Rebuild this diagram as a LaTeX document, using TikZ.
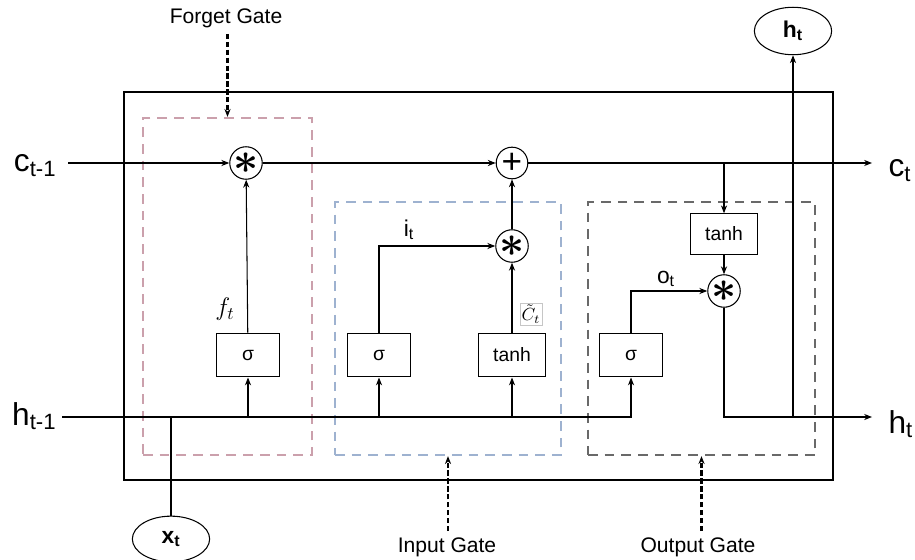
\documentclass[tikz,border=0pt]{standalone}
\usepackage{fontspec}
\setmainfont{Liberation Sans}
\usetikzlibrary{positioning,shapes.geometric,fit,arrows.meta}
\definecolor{forgetc}{RGB}{203,160,172}
\definecolor{inputc}{RGB}{158,178,208}
\definecolor{outputc}{RGB}{105,105,105}

\begin{document}
\begin{tikzpicture}[x=0.02cm, y=-0.02cm, >={Stealth[length=4.5pt,width=3.5pt]}, line width=0.6pt,
		op/.style={draw, circle, minimum size=18pt, inner sep=0pt, font=\fontsize{20}{20}\selectfont},
		mulop/.style={op, font=\fontsize{24}{24}\selectfont\boldmath},
		act/.style={draw, rectangle, minimum width=36pt, minimum height=25pt, inner sep=0pt, font=\fontsize{11}{12}\selectfont},
		io/.style={draw, ellipse, minimum width=44pt, minimum height=26pt, inner sep=0pt, font=\fontsize{13}{14}\selectfont\bfseries},
		gatebox/.style={line width=1.3pt, dash pattern=on 5.5pt off 4pt, inner sep=0pt},
		gatearrow/.style={->, line width=1.3pt, dash pattern=on 3pt off 1.5pt},
		biglab/.style={font=\fontsize{18}{20}\selectfont, inner sep=0pt},
		gatelab/.style={font=\fontsize{12}{14}\selectfont},
		siglab/.style={font=\fontsize{13}{14}\selectfont}]
	\useasboundingbox (0,0) rectangle (915,560);

	% 1. cell frame and the three gate regions
	\node[draw, line width=0.8pt, inner sep=0pt, fit={(124,92) (833,480)}] (cell) {};
	\node[gatebox, draw=forgetc, fit={(143,118) (312,455)}] (fgbox) {};
	\node[gatebox, draw=inputc, fit={(335,202) (561,455)}] (igbox) {};
	\node[gatebox, draw=outputc, fit={(588,202) (815,455)}] (ogbox) {};

	% 2. pointwise operators
	\node[mulop] (fmul) at (246,163) {$\ast$};
	\node[op] (add) at (512,163) {+};
	\node[mulop] (imul) at (512,246) {$\ast$};
	\node[mulop] (omul) at (724,291) {$\ast$};

	% 3. activation boxes
	\node[act] (fsig) at (248,355) {σ};
	\node[act] (isig) at (379,355) {σ};
	\node[act, minimum width=38.5pt] (itanh) at (512,355) {tanh};
	\node[act] (osig) at (631,355) {σ};
	\node[act, minimum width=38.5pt, minimum height=23pt] (ctanh) at (724,234) {tanh};

	% 4. inputs, outputs and their labels
	\coordinate (cin) at (68,163);
	\coordinate (hin) at (62,417);
	\coordinate (cout) at (872,163);
	\coordinate (hout) at (872,417);
	\node[biglab, anchor=base east] (cprev) at (57,172) {c\textsubscript{t-1}};
	\node[biglab, anchor=base east] (hprev) at (57,425) {h\textsubscript{t-1}};
	\node[biglab, anchor=base west] (cnext) at (888,177) {c\textsubscript{t}};
	\node[biglab, anchor=base west] (hnext) at (888,433) {h\textsubscript{t}};
	\node[io] (xt) at (171,539) {x\textsubscript{t}};
	\node[io, minimum height=27pt] (htop) at (793,31) {h\textsubscript{t}};

	% 5. gate signals
	\node[font=\fontsize{14}{15}\selectfont] (ft) at (225,309) {$f_t$};
	\node[siglab] (it) at (409,230) {i\textsubscript{t}};
	\node[siglab] (ot) at (666,279) {o\textsubscript{t}};
	\node[draw=gray!45, line width=0.3pt, inner sep=0.8pt, font=\fontsize{10}{11}\selectfont] (ctil) at (531,314) {$\tilde{C}_t$};

	% 6. cell state path
	\draw[->] (cin) -- (fmul);
	\draw[->] (fmul) -- (add);
	\draw[->] (add) -- (cout);
	\draw[->] (add -| ctanh) -- (ctanh);
	\draw[->] (ctanh) -- (omul);

	% 7. hidden state path and gates
	\draw[->] (hin) -| (osig);
	\draw (xt) -- (xt |- hin);
	\draw[->] (fsig |- hin) -- (fsig);
	\draw[->] (isig |- hin) -- (isig);
	\draw[->] (itanh |- hin) -- (itanh);
	\draw[->] (fsig) -- (fmul);
	\draw[->] (isig) |- (imul);
	\draw[->] (itanh) -- (imul);
	\draw[->] (imul) -- (add);
	\draw[->] (osig) |- (omul);
	\draw[->] (omul) |- (hout);
	\draw[->] (htop |- hout) -- (htop);

	% 8. gate names
	\node[gatelab] (fglab) at (226,18) {Forget Gate};
	\node[gatelab] (iglab) at (447,547) {Input Gate};
	\node[gatelab] (oglab) at (698,547) {Output Gate};
	\draw[gatearrow] (fglab.south -| fgbox.north) -- (fgbox.north);
	\draw[gatearrow] (iglab.north -| igbox.south) -- (igbox.south);
	\draw[gatearrow] (oglab.north -| ogbox.south) -- (ogbox.south);
\end{tikzpicture}
\end{document}
